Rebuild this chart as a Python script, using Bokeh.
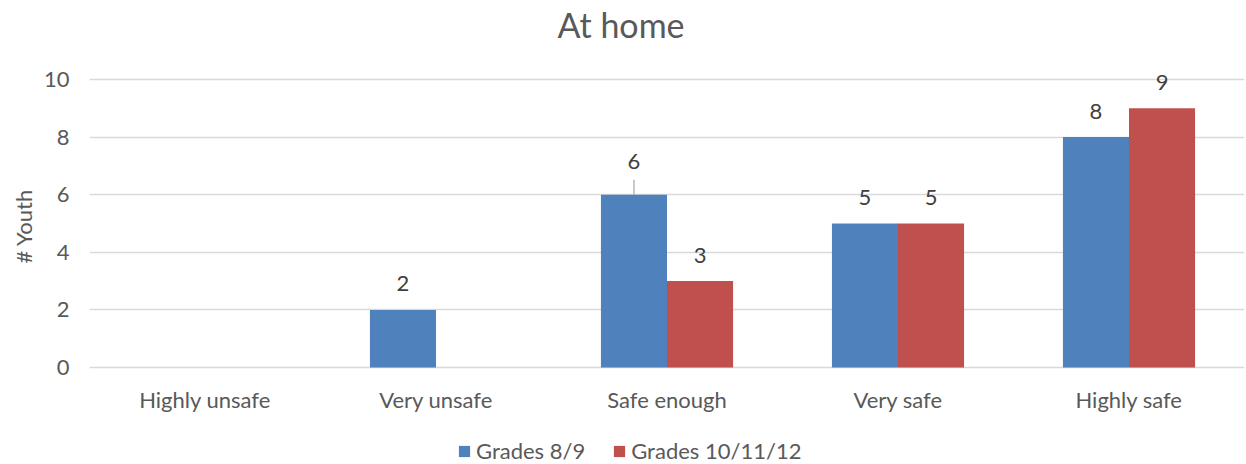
from bokeh.plotting import figure
from bokeh.models import (ColumnDataSource, FactorRange, LabelSet, Label, Legend, LegendItem, Title,
                          Range1d, FixedTicker)
from bokeh.core.properties import value
from bokeh.transform import dodge
from bokeh.embed import file_html
from bokeh.resources import INLINE

categories = ["Highly unsafe", "Very unsafe", "Safe enough", "Very safe", "Highly safe"]
grades_8_9 = [0, 2, 6, 5, 8]
grades_10_12 = [0, 0, 3, 5, 9]
series_names = ["Grades 8/9", "Grades 10/11/12"]
y_ticks = [0, 2, 4, 6, 8, 10]

BLUE = "#4F81BD"
RED = "#C0504D"
TXT = "#595959"
FONT = "Lato"
FS = "22px"

W, H = 1246, 464
LEFT = 89
Y0_PX, Y10_PX = 367, 79          # pixel rows of the 0 and 10 gridlines
PPU = (Y0_PX - Y10_PX) / 10.0    # pixels per unit

src = ColumnDataSource(dict(cat=categories, a=grades_8_9, b=grades_10_12))

p = figure(x_range=FactorRange(*categories, range_padding=0),
           y_range=Range1d(-(H - Y0_PX) / PPU, 10 + Y10_PX / PPU),
           width=W, height=H, output_backend="svg", toolbar_location=None,
           min_border_left=LEFT, min_border_right=2, min_border_top=0, min_border_bottom=0)
p.outline_line_color = None
p.background_fill_color = "white"
p.border_fill_color = "white"

bw = 0.286
ra = p.vbar(x=dodge("cat", -bw / 2, range=p.x_range), top="a", width=bw, source=src,
            fill_color=BLUE, line_color=None)
rb = p.vbar(x=dodge("cat", bw / 2, range=p.x_range), top="b", width=bw, source=src,
            fill_color=RED, line_color=None)

# data labels (non-zero values only)
la = [(c, v) for c, v in zip(categories, grades_8_9) if v]
lb = [(c, v) for c, v in zip(categories, grades_10_12) if v]
moved = "Safe enough"  # label of Grades 8/9 moved up with a leader line
lsa = ColumnDataSource(dict(cat=[c for c, _ in la], v=[v for _, v in la], t=[str(v) for _, v in la],
                            off=[33 if c == moved else 26 for c, _ in la]))
lsb = ColumnDataSource(dict(cat=[c for c, _ in lb], v=[v for _, v in lb], t=[str(v) for _, v in lb]))
p.add_layout(LabelSet(x=dodge("cat", -bw / 2, range=p.x_range), y="v", text="t", source=lsa,
                      y_offset="off", text_align="center", text_baseline="middle",
                      text_font=value(FONT), text_font_size=FS, text_color="#404040"))
p.add_layout(LabelSet(x=dodge("cat", bw / 2, range=p.x_range), y="v", text="t", source=lsb,
                      y_offset=26, text_align="center", text_baseline="middle",
                      text_font=value(FONT), text_font_size=FS, text_color="#404040"))
# leader line for the moved label
lead = ColumnDataSource(dict(cat=[moved], v=[grades_8_9[categories.index(moved)]]))
lead.data["v2"] = [lead.data["v"][0] + 15 / PPU]
p.segment(x0=dodge("cat", -bw / 2, range=p.x_range), y0="v", x1=dodge("cat", -bw / 2, range=p.x_range),
          y1="v2", source=lead, line_color="#A6A6A6", line_width=1.2)

p.xgrid.grid_line_color = None
p.ygrid.grid_line_color = "#D9D9D9"
p.ygrid.grid_line_width = 1.3
p.yaxis.ticker = FixedTicker(ticks=y_ticks)
p.xaxis.fixed_location = 0
for ax in (p.xaxis, p.yaxis):
    ax.axis_line_color = None
    ax.major_tick_line_color = None
    ax.minor_tick_line_color = None
    ax.major_label_text_font = FONT
    ax.major_label_text_font_size = FS
    ax.major_label_text_color = TXT
p.xaxis.major_label_standoff = 12
p.yaxis.major_label_standoff = 14

ylab = Title(text="# Youth", align="left", text_font=FONT, text_font_size=FS,
             text_font_style="normal", text_color=TXT, offset=H - 263, standoff=8)
p.add_layout(ylab, "left")

title = Label(x=557 - LEFT, y=H - 24, x_units="screen", y_units="screen", text="At home",
              text_font=FONT, text_font_size="34px", text_color=TXT,
              text_align="left", text_baseline="middle")
p.add_layout(title)

legend = Legend(items=[LegendItem(label=series_names[0], renderers=[ra]),
                       LegendItem(label=series_names[1], renderers=[rb])],
                orientation="horizontal", location=(368, 0),
                label_text_font=FONT, label_text_font_size=FS, label_text_color=TXT,
                glyph_width=14, glyph_height=14, spacing=27, padding=0, margin=0,
                border_line_color=None, background_fill_alpha=0, label_standoff=5)
p.add_layout(legend, "center")

open("out.html", "w").write(file_html(p, INLINE))
